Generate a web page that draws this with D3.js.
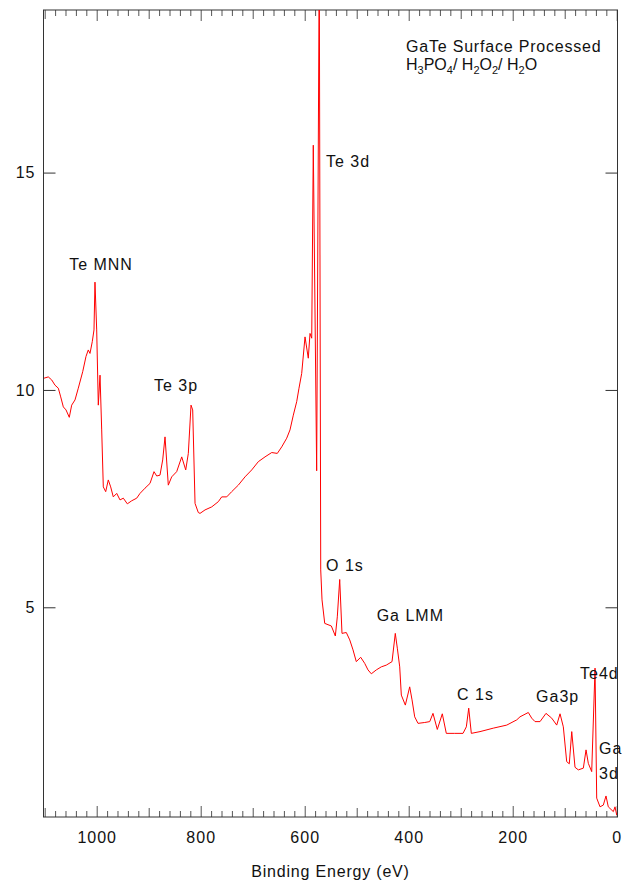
<!DOCTYPE html>
<html>
<head>
<meta charset="utf-8">
<script src="https://cdn.jsdelivr.net/npm/d3@7"></script>
<style>
    body { margin: 0; background: #fff; }
    text { font-family: "Liberation Sans", Arial, sans-serif; fill: #111; }
</style>
</head>
<body>
<div id="chart"></div>
<script>
// binding energy (eV) and counts
const energy = [
    1101.3, 1093.1, 1086.5, 1080.2, 1073.8, 1069.2, 1064.2, 1059, 1052.7, 1048.1,
    1041.7, 1035.4, 1026.9, 1020.6, 1016.2, 1012.9, 1008.5, 1005.2, 1003.3, 1000,
    996.9, 993.6, 990.4, 987.3, 982.7, 977.7, 973.1, 968.1, 961.5, 955.2,
    948.8, 941.1, 932.7, 923.1, 916.7, 907.1, 897.5, 889.8, 884.6, 878.3,
    873.1, 868.6, 862.3, 855.8, 846.2, 836.5, 828.8, 823.8, 818.6, 815.4,
    810.9, 804.6, 801.3, 791.7, 778.8, 766.1, 759.6, 750, 740.4, 727.7,
    714.8, 701.9, 689.2, 676.3, 663.4, 652.7, 644.2, 634.6, 628.3, 621.9,
    615.4, 611, 605.8, 599.4, 593.1, 589.8, 586.5, 583.5, 577, 572,
    569.2, 566.7, 561.5, 548.8, 541.1, 537.3, 532.7, 528.3, 520, 513.4,
    507.1, 500.8, 492.3, 484.6, 478.3, 471.9, 462.3, 452.7, 443.1, 432.1,
    425.8, 421.9, 417.3, 414.2, 406.5, 398.1, 393.6, 388.5, 382.1, 369.2,
    359.6, 353.3, 345, 335.4, 327.7, 311.5, 295.6, 289.2, 284.6, 279.6,
    262.9, 237.3, 211.5, 192.3, 186, 170, 163.5, 157.1, 147.5, 136,
    125, 115.4, 109, 102.7, 96.2, 91.2, 86.5, 80.2, 73.8, 64.2,
    59, 54.6, 48.1, 41.7, 38.5, 32.1, 25.8, 20.6, 16.2, 6.5,
    3.3, 0
];
const counts = [
    10.27, 10.30, 10.23, 10.11, 10.04, 9.84, 9.61, 9.54, 9.37, 9.65,
    9.77, 10.04, 10.42, 10.77, 10.92, 10.84, 11.11, 11.38, 12.48, 11.38,
    9.65, 10.34, 9.08, 7.77, 7.66, 7.93, 7.77, 7.54, 7.62, 7.47,
    7.51, 7.38, 7.45, 7.51, 7.62, 7.74, 7.85, 8.12, 8.02, 8.04,
    8.39, 8.92, 7.81, 8.00, 8.12, 8.46, 8.16, 8.54, 9.65, 9.54,
    7.39, 7.18, 7.16, 7.24, 7.31, 7.43, 7.54, 7.54, 7.66, 7.81,
    8.00, 8.16, 8.35, 8.46, 8.56, 8.54, 8.69, 8.89, 9.08, 9.42,
    9.73, 10.04, 10.38, 11.22, 10.73, 11.30, 11.19, 15.63, 8.14, 20.0,
    5.86, 5.17, 4.63, 4.57, 4.34, 4.78, 5.64, 4.40, 4.42, 4.25,
    4.02, 3.75, 3.85, 3.71, 3.56, 3.47, 3.56, 3.63, 3.67, 3.75,
    4.40, 4.06, 3.63, 2.98, 2.75, 3.17, 2.87, 2.48, 2.33, 2.35,
    2.37, 2.56, 2.19, 2.55, 2.10, 2.10, 2.10, 2.25, 2.68, 2.10,
    2.14, 2.22, 2.29, 2.41, 2.48, 2.58, 2.45, 2.37, 2.37, 2.56,
    2.45, 2.29, 2.55, 2.25, 1.45, 1.40, 2.14, 1.32, 1.26, 1.30,
    1.72, 1.41, 1.22, 3.60, 0.61, 0.41, 0.45, 0.66, 0.41, 0.30,
    0.41, 0.22
];

const peakNames = ['Te MNN', 'Te 3p', 'Te 3d', 'O 1s', 'Ga LMM', 'C 1s', 'Ga3p', 'Te4d', 'Ga', '3d'];
const peakEnergy = [1053, 890, 559, 559, 461.6, 307, 155, 70.6, 34, 34];
const peakLevel = [12.76, 9.98, 15.13, 5.84, 4.68, 2.87, 2.83, 3.34, 1.63, 1.05];

const yTicks = [5, 10, 15];

const data = energy.map((e, i) => ({ e: e, c: counts[i] }));

const W = 629, H = 884;
const mLeft = 43.5, mRight = 617.5, mTop = 10, mBottom = 817;

const x = d3.scaleLinear().domain([1102.3, -1.5]).range([mLeft, mRight]);
const y = d3.scaleLinear().domain([0.176, 18.74]).range([mBottom, mTop]);

const svg = d3.select('#chart')
    .append('svg')
    .attr('width', W)
    .attr('height', H);

svg.append('clipPath')
    .attr('id', 'plot')
    .append('rect')
    .attr('x', mLeft)
    .attr('y', mTop)
    .attr('width', mRight - mLeft)
    .attr('height', mBottom - mTop);

// x ticks: 200 (long), 100 (medium), 20 (short), bottom and top, pointing inward
const major = d3.range(0, 1101, 200);
const medium = d3.range(0, 1101, 100).filter(d => d % 200 !== 0);
const minor = d3.range(0, 1101, 20).filter(d => d % 100 !== 0);

function xTicks(vals, len, withLabels) {
    const b = svg.append('g')
        .attr('transform', `translate(0,${mBottom})`)
        .call(d3.axisBottom(x).tickValues(vals).tickSizeInner(-len).tickSizeOuter(0).tickPadding(15)
            .tickFormat(withLabels ? d3.format('d') : () => ''));
    const t = svg.append('g')
        .attr('transform', `translate(0,${mTop})`)
        .call(d3.axisTop(x).tickValues(vals).tickSizeInner(-len).tickSizeOuter(0).tickFormat(() => ''));
    [b, t].forEach(g => {
        g.select('.domain').remove();
        g.selectAll('line').attr('stroke', '#555');
    });
    b.selectAll('text')
        .style('font-size', '16px')
        .style('letter-spacing', '1px')
        .attr('fill', '#111');
}
xTicks(minor, 6, false);
xTicks(medium, 9, false);
xTicks(major, 11, true);

const yl = svg.append('g')
    .attr('transform', `translate(${mLeft},0)`)
    .call(d3.axisLeft(y).tickValues(yTicks).tickSizeInner(-12).tickSizeOuter(0).tickPadding(8));
const yr = svg.append('g')
    .attr('transform', `translate(${mRight},0)`)
    .call(d3.axisRight(y).tickValues(yTicks).tickSizeInner(-12).tickSizeOuter(0).tickFormat(() => ''));
[yl, yr].forEach(g => {
    g.select('.domain').remove();
    g.selectAll('line').attr('stroke', '#333');
});
yl.selectAll('text')
    .style('font-size', '16px')
    .style('letter-spacing', '1px')
    .attr('fill', '#111');

// frame
svg.append('rect')
    .attr('x', mLeft)
    .attr('y', mTop)
    .attr('width', mRight - mLeft)
    .attr('height', mBottom - mTop)
    .attr('fill', 'none')
    .attr('stroke', '#333')
    .attr('stroke-width', 1);

const line = d3.line()
    .x(d => x(d.e))
    .y(d => y(d.c));

svg.append('path')
    .datum(data)
    .attr('clip-path', 'url(#plot)')
    .attr('fill', 'none')
    .attr('stroke', '#ff0000')
    .attr('stroke-width', 1)
    .attr('stroke-linejoin', 'round')
    .attr('d', line);

svg.append('g').selectAll('text')
    .data(peakNames)
    .enter().append('text')
    .attr('x', (d, i) => x(peakEnergy[i]))
    .attr('y', (d, i) => y(peakLevel[i]))
    .style('font-size', '16px')
    .style('letter-spacing', '1px')
    .text(d => d);

// sample title
const title = svg.append('text')
    .attr('x', 406)
    .attr('y', 52)
    .style('font-size', '16px')
    .style('letter-spacing', '0.8px');
title.append('tspan').text('GaTe Surface Processed');

const formula = svg.append('text')
    .attr('x', 406)
    .attr('y', 70)
    .style('font-size', '16px');
const parts = [['H', 0], ['3', 1], ['PO', 0], ['4', 1], ['/ H', 0], ['2', 1], ['O', 0], ['2', 1], ['/ H', 0], ['2', 1], ['O', 0]];
let prev = 0;
parts.forEach(p => {
    formula.append('tspan')
        .attr('dy', (p[1] - prev) * 4)
        .style('font-size', p[1] ? '11px' : '16px')
        .text(p[0]);
    prev = p[1];
});

svg.append('text')
    .attr('x', (mLeft + mRight) / 2)
    .attr('y', 877)
    .attr('text-anchor', 'middle')
    .style('font-size', '16px')
    .style('letter-spacing', '0.8px')
    .text('Binding Energy (eV)');
</script>
</body>
</html>
